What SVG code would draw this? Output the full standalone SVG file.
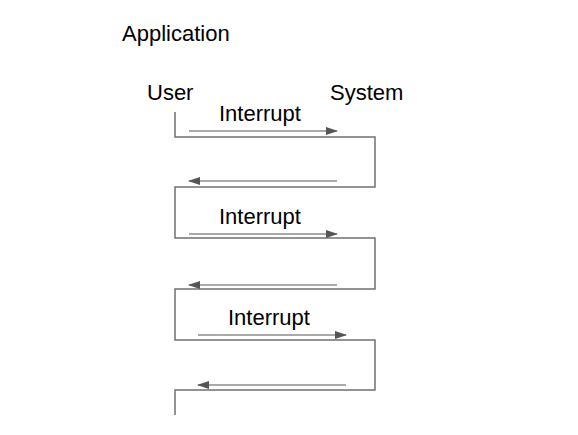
<svg xmlns="http://www.w3.org/2000/svg" width="578" height="435" viewBox="0 0 578 435">
<style>
text{font-family:"Liberation Sans",Arial,sans-serif;font-size:22px;fill:#000}
.life{fill:none;stroke:#707070;stroke-width:1.5}
.msg{stroke:#555;stroke-width:1.2;fill:none;marker-end:url(#ah)}
</style>
<defs>
<marker id="ah" markerWidth="12" markerHeight="8" refX="11" refY="4" orient="auto" markerUnits="userSpaceOnUse">
<path d="M0,0 L12,4 L0,8 Z" fill="#555"/>
</marker>
</defs>
<rect width="578" height="435" fill="#fff"/>
<g id="title"><text x="122" y="41">Application</text></g>
<g id="user"><text x="147" y="100">User</text></g>
<g id="system"><text x="330" y="100">System</text></g>
<g id="connectors">
<path class="life" d="M175,112 V137 H375 V187 H175 V238 H375 V289 H175 V340 H375 V390 H175 V415"/>
<line class="msg" x1="189" y1="131" x2="337" y2="131"/>
<line class="msg" x1="337" y1="181" x2="189" y2="181"/>
<line class="msg" x1="189" y1="234" x2="337" y2="234"/>
<line class="msg" x1="337" y1="285" x2="189" y2="285"/>
<line class="msg" x1="198" y1="335" x2="346" y2="335"/>
<line class="msg" x1="346" y1="385" x2="198" y2="385"/>
</g>
<g id="labels">
<text x="219" y="121">Interrupt</text>
<text x="219" y="224">Interrupt</text>
<text x="228" y="325">Interrupt</text>
</g>
</svg>
